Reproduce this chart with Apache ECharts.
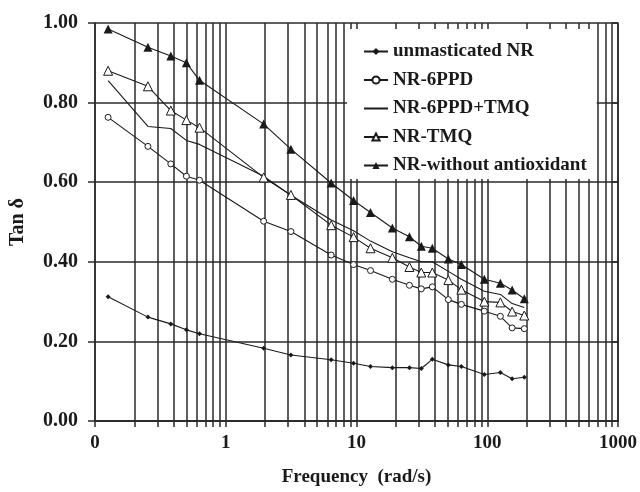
<!DOCTYPE html>
<html>
<head>
<meta charset="utf-8">
<script src="https://cdn.jsdelivr.net/npm/echarts@6/dist/echarts.min.js"></script>
<style>
  html, body { margin: 0; padding: 0; background: #fff; }
  #chart { width: 640px; height: 492px; }
</style>
</head>
<body>
<div id="chart"></div>
<script>
// frequency (rad/s), shared by all series
const freq = [0.126, 0.254, 0.38, 0.5, 0.63, 1.95, 3.15, 6.4, 9.5, 12.8, 18.8, 25.4, 31.3, 38, 50.4, 63.4, 95, 126, 155, 192];

const unmasticated = [0.312, 0.261, 0.244, 0.229, 0.219, 0.183, 0.166, 0.154, 0.145, 0.137, 0.134, 0.134, 0.132, 0.155, 0.141, 0.137, 0.117, 0.122, 0.106, 0.110];
const nr6ppd = [0.763, 0.690, 0.646, 0.615, 0.605, 0.502, 0.476, 0.417, 0.393, 0.378, 0.356, 0.341, 0.332, 0.337, 0.305, 0.293, 0.276, 0.263, 0.234, 0.232];
const nr6ppdTmq = [0.855, 0.740, 0.735, 0.705, 0.695, 0.615, 0.567, 0.505, 0.478, 0.452, 0.425, 0.410, 0.400, 0.400, 0.376, 0.356, 0.326, 0.318, 0.295, 0.285];
const nrTmq = [0.880, 0.841, 0.780, 0.756, 0.737, 0.612, 0.568, 0.492, 0.462, 0.434, 0.410, 0.387, 0.373, 0.373, 0.354, 0.330, 0.300, 0.298, 0.275, 0.265];
const nrWithout = [0.985, 0.939, 0.917, 0.900, 0.856, 0.746, 0.683, 0.598, 0.554, 0.524, 0.485, 0.463, 0.439, 0.434, 0.407, 0.393, 0.356, 0.346, 0.329, 0.307];

const seriesNames = ["unmasticated NR", "NR-6PPD", "NR-6PPD+TMQ", "NR-TMQ", "NR-without antioxidant"];

// x tick labels and grid lines (1..9 of each decade)
const xLabels = [0.1, 1, 10, 100, 1000];
const xGrid = [];
[0.1, 1, 10, 100].forEach(d => { for (let m = 1; m <= 9; m++) xGrid.push(+(d * m).toPrecision(3)); });
xGrid.push(1000);

const ink = "#1a1a1a";
const gridInk = "#2a2a2a";
const font = "Liberation Serif";

const pairs = (ys) => freq.map((f, i) => [f, ys[i]]);

const chart = echarts.init(document.getElementById("chart"));

const baseLine = { type: "line", lineStyle: { color: ink, width: 1.1 }, z: 3 };
const gridLine = { color: gridInk, width: 1.5 };

chart.setOption({
  animation: false,
  textStyle: { fontFamily: font },
  grid: { left: 95, right: 22, top: 23, bottom: 59 },
  legend: {
    data: [
      seriesNames[0],
      seriesNames[1],
      { name: seriesNames[2], itemStyle: { color: "rgba(0,0,0,0)", borderWidth: 0, opacity: 0 } },
      seriesNames[3],
      seriesNames[4],
    ],
    orient: "vertical",
    left: 347,
    top: 29,
    padding: [13, 10, 4, 16],
    itemGap: 9.5,
    itemWidth: 24,
    itemHeight: 9,
    backgroundColor: "#fff",
    textStyle: { fontFamily: font, fontWeight: "bold", fontSize: 19, color: ink, lineHeight: 18 },
  },
  xAxis: [
    {
      type: "log",
      logBase: 10,
      min: 0.1,
      max: 1000,
      name: "Frequency  (rad/s)",
      nameLocation: "middle",
      nameGap: 47,
      nameTextStyle: { fontFamily: font, fontWeight: "bold", fontSize: 19, color: ink },
      axisLine: { lineStyle: gridLine },
      axisTick: { show: true, length: 6, customValues: xGrid, lineStyle: gridLine },
      axisLabel: {
        margin: 13,
        customValues: xLabels,
        fontFamily: font, fontWeight: "bold", fontSize: 19, color: ink,
        formatter: (v) => (v < 1 ? "0" : String(Math.round(v))),
      },
      splitLine: { show: true, lineStyle: gridLine },
    },
    {
      // top frame: inward ticks only
      type: "log",
      logBase: 10,
      min: 0.1,
      max: 1000,
      position: "top",
      axisLine: { show: true, lineStyle: gridLine },
      axisTick: { show: true, inside: true, length: 5, customValues: xGrid, lineStyle: gridLine },
      axisLabel: { show: false },
      splitLine: { show: false },
    },
  ],
  yAxis: [
    {
      type: "value",
      min: 0,
      max: 1,
      interval: 0.2,
      name: "Tan δ",
      nameLocation: "middle",
      nameRotate: 90,
      nameGap: 67,
      nameTextStyle: { fontFamily: font, fontWeight: "bold", fontSize: 20, color: ink },
      axisLine: { show: true, lineStyle: gridLine },
      axisTick: { show: true, length: 7, lineStyle: gridLine },
      axisLabel: {
        margin: 17,
        fontFamily: font, fontWeight: "bold", fontSize: 20, color: ink,
        formatter: (v) => v.toFixed(2),
      },
      splitLine: { show: true, lineStyle: gridLine },
    },
    {
      // right frame: inward ticks only
      type: "value",
      min: 0,
      max: 1,
      interval: 0.2,
      position: "right",
      axisLine: { show: true, lineStyle: gridLine },
      axisTick: { show: true, inside: true, length: 6, lineStyle: gridLine },
      axisLabel: { show: false },
      splitLine: { show: false },
    },
  ],
  series: [
    {
      ...baseLine,
      name: seriesNames[0],
      data: pairs(unmasticated),
      symbol: "diamond",
      symbolSize: 5,
      itemStyle: { color: ink },
    },
    {
      ...baseLine,
      name: seriesNames[1],
      data: pairs(nr6ppd),
      symbol: "circle",
      symbolSize: 6,
      itemStyle: { color: "#fff", borderColor: ink, borderWidth: 1 },
    },
    {
      ...baseLine,
      name: seriesNames[2],
      data: pairs(nr6ppdTmq),
      symbol: "none",
      itemStyle: { color: ink },
    },
    {
      ...baseLine,
      name: seriesNames[3],
      data: pairs(nrTmq),
      symbol: "triangle",
      symbolSize: 9,
      itemStyle: { color: "#fff", borderColor: ink, borderWidth: 1 },
    },
    {
      ...baseLine,
      name: seriesNames[4],
      data: pairs(nrWithout),
      symbol: "triangle",
      symbolSize: 9,
      itemStyle: { color: ink },
    },
  ],
});

window.addEventListener("resize", () => chart.resize());
</script>
</body>
</html>
